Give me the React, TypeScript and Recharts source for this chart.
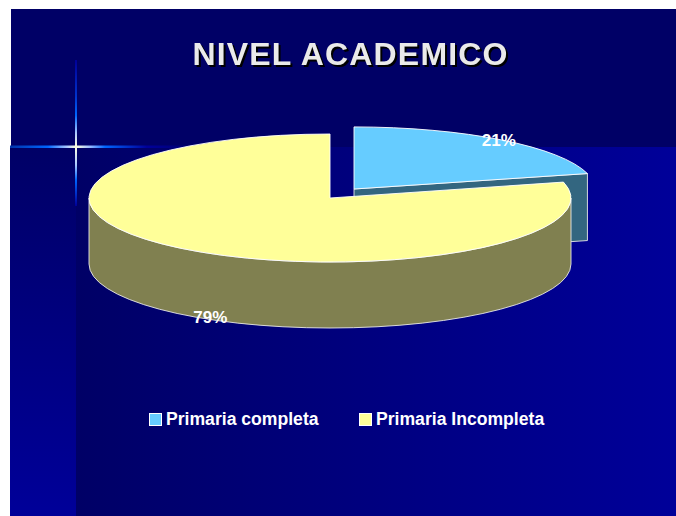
import React from 'react';
import { PieChart, Pie, Cell, Legend } from 'recharts';

const categories = ['Primaria completa', 'Primaria Incompleta'];
const shares = [21, 79];
const topColors = ['#66CCFF', '#FFFF99'];
const sideColors = ['#336680', '#808050'];

const chartData = categories.map((name, i) => ({ name, value: shares[i] }));

const FONT = '"Liberation Sans", Arial, sans-serif';
const CX = 330;
const CY = 198;
const RX = 241;
const SQUASH = 64 / 241;
const DEPTH = 66;

// the first slice is pulled out of the pie
const offsetFor = (name: string) => (name === categories[0] ? { dx: 24, dy: -9, depth: 67 } : { dx: 0, dy: 0, depth: DEPTH });

const rad = (deg: number) => (deg * Math.PI) / 180;

const Slice3D = (props: any) => {
  const { cx, cy, outerRadius, startAngle, endAngle, name, fill } = props;
  const { dx, dy, depth } = offsetFor(name);
  const idx = categories.indexOf(name);
  const ox = cx + dx;
  const oy = cy + dy;
  const rx = outerRadius;
  const ry = outerRadius * SQUASH * (idx === 0 ? 0.97 : 1);
  const pt = (a: number) => [ox + rx * Math.cos(rad(a)), oy - ry * Math.sin(rad(a))];
  const [sx, sy] = pt(startAngle);
  const [ex, ey] = pt(endAngle);
  const large = Math.abs(endAngle - startAngle) > 180 ? 1 : 0;
  const top = `M${ox},${oy} L${sx},${sy} A${rx},${ry} 0 ${large} 1 ${ex},${ey} Z`;

  // only the walls that face the viewer
  const wall =
    idx === 0
      ? `M${ox},${oy} L${ex},${ey} L${ex},${ey + depth} L${ox},${oy + depth} Z`
      : `M${ox + rx},${oy} A${rx},${ry} 0 0 1 ${ox - rx},${oy} L${ox - rx},${oy + depth} A${rx},${ry} 0 0 0 ${ox + rx},${oy + depth} Z`;
  return (
    <g>
      <path d={wall} fill={sideColors[idx]} stroke="#E8E8E8" strokeWidth={0.9} />
      <path d={top} fill={fill} stroke="#FFFFFF" strokeWidth={0.9} strokeLinejoin="round" />
    </g>
  );
};

const sliceLabel = (props: any) => {
  const { cx, cy, outerRadius, midAngle, name, value } = props;
  const { dx, dy } = offsetFor(name);
  const first = name === categories[0];
  const k = first ? 0.98 : 0.81;
  const x = cx + dx + outerRadius * k * Math.cos(rad(midAngle));
  const y = cy + dy + outerRadius * SQUASH * k * -Math.sin(rad(midAngle)) + (first ? 1 : 79);
  return (
    <text x={x} y={y} fill="#FFFFFF" fontFamily={FONT} fontWeight="bold" fontSize={17} textAnchor="middle" dominantBaseline="central">
      {value}%
    </text>
  );
};

const LegendRow = ({ payload }: any) => (
  <div style={{ position: 'relative', height: 24, fontFamily: FONT, fontWeight: 'bold', fontSize: 17.6, color: '#FFFFFF' }}>
    {(payload || []).map((entry: any, i: number) => (
      <div key={entry.value} style={{ position: 'absolute', left: i === 0 ? 149 : 359, top: 0, lineHeight: '24px', whiteSpace: 'nowrap' }}>
        <span
          style={{
            position: 'absolute',
            left: 0,
            top: 6,
            width: 11,
            height: 11,
            background: topColors[i],
            border: '0.5px solid #FFFFFF',
          }}
        />
        <span style={{ marginLeft: 17 }}>{entry.value}</span>
      </div>
    ))}
  </div>
);

const Backdrop = () => (
  <svg width={676} height={516} style={{ position: 'absolute', left: 0, top: 0 }}>
    <defs>
      <linearGradient id="mainFade" x1="0" x2="1" y1="0" y2="0">
        <stop offset="0" stopColor="#000066" />
        <stop offset="1" stopColor="#000099" />
      </linearGradient>
      <linearGradient id="sideFade" x1="0" x2="0" y1="0" y2="1">
        <stop offset="0" stopColor="#000066" />
        <stop offset="1" stopColor="#000099" />
      </linearGradient>
      <linearGradient id="glintH" x1="0" x2="1" y1="0" y2="0">
        <stop offset="0" stopColor="#0033AA" />
        <stop offset="0.2" stopColor="#0066FF" />
        <stop offset="0.3" stopColor="#AAC8FF" />
        <stop offset="0.347" stopColor="#FFFFE0" />
        <stop offset="0.42" stopColor="#99BBFF" />
        <stop offset="0.5" stopColor="#0066FF" />
        <stop offset="0.72" stopColor="#000099" />
        <stop offset="1" stopColor="#000099" stopOpacity={0} />
      </linearGradient>
      <linearGradient id="glintV" x1="0" x2="0" y1="0" y2="1">
        <stop offset="0" stopColor="#000099" />
        <stop offset="0.25" stopColor="#0033CC" />
        <stop offset="0.38" stopColor="#0066FF" />
        <stop offset="0.5" stopColor="#AAC8FF" />
        <stop offset="0.595" stopColor="#FFFFE0" />
        <stop offset="0.72" stopColor="#AAC8FF" />
        <stop offset="0.82" stopColor="#0066FF" />
        <stop offset="1" stopColor="#000099" />
      </linearGradient>
    </defs>
    <rect x={10} y={147} width={66} height={369} fill="url(#sideFade)" />
    <rect x={76} y={147} width={600} height={369} fill="url(#mainFade)" />
    <rect x={11} y={9} width={665} height={138} fill="#000066" />
    <rect x={75} y={60} width={2} height={146} fill="url(#glintV)" />
    <rect x={10} y={145.5} width={190} height={2.5} fill="url(#glintH)" />
    <text
      x={350.5}
      y={65}
      textAnchor="middle"
      fontFamily={FONT}
      fontWeight="bold"
      fontSize={32}
      letterSpacing={1.17}
      fill="#EAEAEA"
      style={{ filter: 'drop-shadow(2px 2px 0 #000000)' }}
    >
      NIVEL ACADEMICO
    </text>
  </svg>
);

export default function App() {
  return (
    <div style={{ position: 'absolute', left: 0, top: 0, width: 676, height: 516, overflow: 'hidden' }}>
      <Backdrop />
      <div style={{ position: 'absolute', left: 0, top: 0 }}>
        <PieChart width={676} height={516} margin={{ top: 0, right: 0, bottom: 0, left: 0 }}>
          <Pie
            data={chartData}
            dataKey="value"
            nameKey="name"
            cx={CX}
            cy={CY}
            outerRadius={RX}
            startAngle={90}
            endAngle={-270}
            stroke="none"
            shape={Slice3D}
            label={sliceLabel}
            labelLine={false}
            isAnimationActive={false}
          >
            {chartData.map((d, i) => (
              <Cell key={d.name} fill={topColors[i]} />
            ))}
          </Pie>
          <Legend
            content={LegendRow}
            itemSorter={null}
            verticalAlign="bottom"
            wrapperStyle={{ position: 'absolute', left: 0, top: 407, width: 676, height: 24 }}
          />
        </PieChart>
      </div>
    </div>
  );
}
